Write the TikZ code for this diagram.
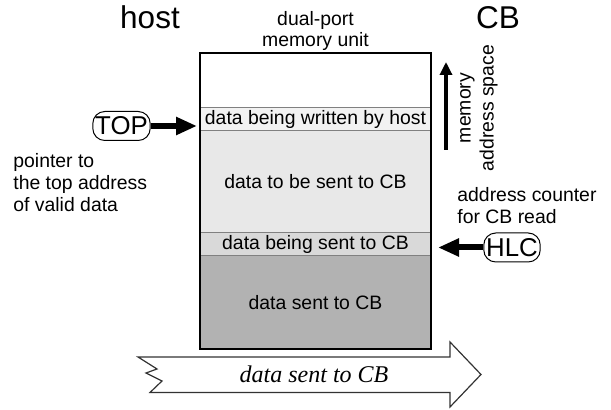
\documentclass[tikz,border=0pt]{standalone}
\usepackage{fontspec}
\setmainfont{Liberation Sans}
\newfontfamily\serifit{Liberation Serif}
\usetikzlibrary{arrows.meta, positioning}

\begin{document}
\begin{tikzpicture}[
  x=0.5pt, y=-0.5pt,
  every node/.style={font=\fontsize{9.7}{10.5}\selectfont, inner sep=0pt},
  band/.style={rectangle, draw=black!50, line width=0.5pt, outer sep=0pt,
    minimum width=115.5pt, align=center},
  big/.style={font=\fontsize{15.75}{18}\selectfont},
  pointer/.style={rectangle, rounded corners=6pt, draw, line width=0.5pt,
    font=\fontsize{12.9}{14}\selectfont, inner xsep=1.2pt, minimum height=14.5pt},
  fat/.style={-{Triangle[length=10.5pt, width=8.5pt]}, line width=3pt},
  addrarrow/.style={-{Triangle[length=6.5pt, width=6pt]}, line width=1.6pt},
  note/.style={align=left, anchor=north west, font=\fontsize{9.7}{11}\selectfont}
]
\useasboundingbox (0,0) rectangle (611,410);

% memory unit
\node[band, anchor=north west, minimum height=27.5pt, fill=white] (free) at (200,53) {};
\node[band, below=0pt of free, minimum height=11.5pt, fill=black!5] (written) {data being written by host};
\node[band, below=0pt of written, minimum height=51pt, fill=black!9] (pending) {data to be sent to CB};
\node[band, below=0pt of pending, minimum height=11.5pt, fill=black!15] (sending) {data being sent to CB};
\node[band, below=0pt of sending, minimum height=46.5pt, fill=black!30] (sent) {data sent to CB};
\draw[line width=0.7pt] (free.north west) rectangle (sent.south east);

\node[above=1pt of free, align=center] (dpmu) {dual-port\\memory unit};
\node[big, anchor=base] (host) at (150,29) {host};
\node[big, anchor=base] (cb) at (498,29) {CB};

% pointers
\node[pointer] (topptr) at (121.5,126) {TOP};
\node[pointer] (hlc) at (512,247.5) {HLC};
\draw[fat, shorten >=1.5pt] (topptr.east) -- (topptr.east -| free.west);
\draw[fat, shorten >=3.5pt] (hlc.west) -- (hlc.west -| sent.east);
\node[note] (topnote) at (13,153) {pointer to\\the top address\\of valid data};
\node[note] (hlcnote) at (457,187) {address counter\\for CB read};

% address direction
\coordinate (addrlo) at (446,150);
\coordinate (addrhi) at (446,62);
\draw[addrarrow] (addrlo) -- (addrhi);
\node[rotate=90, align=center] (addrlbl) at (479,108) {memory\\[1pt]address space};

% data flow
\draw[draw=black!80, line width=0.6pt, fill=white]
  (138,357) -- (157,369) -- (146,373) -- (162,381) -- (150,392.5) -- (450,392.5)
  -- (450,407) -- (481,374.5) -- (450,342) -- (450,357) -- cycle;
\node[font=\serifit\itshape\fontsize{12}{14}\selectfont] (flow) at (314,374.5) {data sent to CB};

\end{tikzpicture}
\end{document}
